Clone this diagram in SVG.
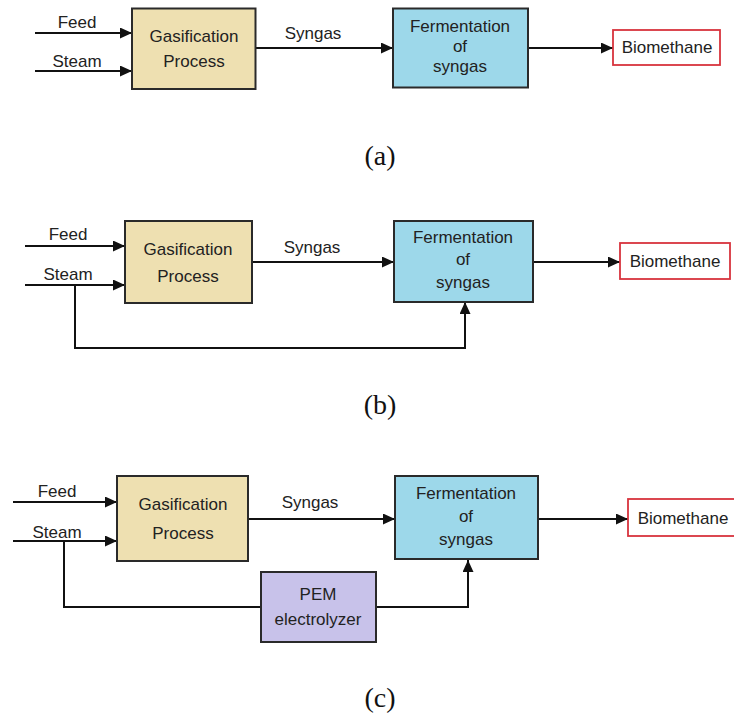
<svg xmlns="http://www.w3.org/2000/svg" width="734" height="722" viewBox="0 0 734 722">
<style>
.t{font-family:"Liberation Sans",Arial,sans-serif;font-size:17px;fill:#222;text-anchor:middle}
.cap{font-family:"Liberation Serif","Times New Roman",serif;font-size:28px;fill:#111;text-anchor:middle}
.gas{fill:#eee0b1;stroke:#2a2a2a;stroke-width:2}
.fer{fill:#9dd8ea;stroke:#2a2a2a;stroke-width:2}
.pem{fill:#c8c2ea;stroke:#2a2a2a;stroke-width:2}
.bio{fill:#fff;stroke:#d8333d;stroke-width:1.8}
.c{fill:none;stroke:#111;stroke-width:2}
.a{marker-end:url(#ah)}
</style>
<defs>
<marker id="ah" markerUnits="userSpaceOnUse" markerWidth="13" markerHeight="11" refX="12" refY="5.5" orient="auto">
<path d="M0,0 L12,5.5 L0,11 z" fill="#111"/>
</marker>
</defs>
<rect width="734" height="722" fill="#fff"/>

<g id="connectors">
<!-- (a) -->
<line class="c a" x1="35" y1="33" x2="132" y2="33"/>
<line class="c a" x1="35" y1="71" x2="132" y2="71"/>
<line class="c a" x1="256" y1="48" x2="393" y2="48"/>
<line class="c a" x1="528" y1="48" x2="613" y2="48"/>
<!-- (b) -->
<line class="c a" x1="25" y1="246" x2="125" y2="246"/>
<line class="c a" x1="25" y1="285" x2="125" y2="285"/>
<line class="c a" x1="252" y1="262" x2="394" y2="262"/>
<polyline class="c a" points="75,285 75,348 465,348 465,302"/>
<line class="c a" x1="533" y1="262" x2="620" y2="262"/>
<!-- (c) -->
<line class="c a" x1="13" y1="502" x2="117" y2="502"/>
<line class="c a" x1="13" y1="541" x2="117" y2="541"/>
<line class="c a" x1="248" y1="519" x2="395" y2="519"/>
<polyline class="c" points="64,541 64,607 261,607"/>
<polyline class="c a" points="376,607 468,607 468,560"/>
<line class="c a" x1="538" y1="519" x2="628" y2="519"/>
</g>

<g id="labels">
<text class="t" x="77" y="28">Feed</text>
<text class="t" x="77" y="67">Steam</text>
<text class="t" x="313" y="39">Syngas</text>
<text class="t" x="68" y="240">Feed</text>
<text class="t" x="68" y="280">Steam</text>
<text class="t" x="312" y="253">Syngas</text>
<text class="t" x="57" y="497">Feed</text>
<text class="t" x="57" y="538">Steam</text>
<text class="t" x="310" y="508">Syngas</text>
<text class="cap" x="380" y="165">(a)</text>
<text class="cap" x="380" y="414">(b)</text>
<text class="cap" x="380" y="707">(c)</text>
</g>

<g id="a-gasification">
<rect class="gas" x="132" y="8.5" width="123.5" height="80.5"/>
<text class="t" x="194" y="42">Gasification</text>
<text class="t" x="194" y="67">Process</text>
</g>
<g id="a-fermentation">
<rect class="fer" x="393" y="8.5" width="135" height="79"/>
<text class="t" x="460" y="32">Fermentation</text>
<text class="t" x="460" y="52">of</text>
<text class="t" x="460" y="72">syngas</text>
</g>
<g id="a-biomethane">
<rect class="bio" x="613" y="30" width="107" height="35"/>
<text class="t" x="667" y="53">Biomethane</text>
</g>

<g id="b-gasification">
<rect class="gas" x="125" y="221" width="127" height="82"/>
<text class="t" x="188" y="255">Gasification</text>
<text class="t" x="188" y="282">Process</text>
</g>
<g id="b-fermentation">
<rect class="fer" x="394" y="221" width="139" height="81"/>
<text class="t" x="463" y="243">Fermentation</text>
<text class="t" x="463" y="265">of</text>
<text class="t" x="463" y="288">syngas</text>
</g>
<g id="b-biomethane">
<rect class="bio" x="620" y="243" width="110" height="36"/>
<text class="t" x="675" y="267">Biomethane</text>
</g>

<g id="c-gasification">
<rect class="gas" x="117" y="476" width="131" height="85"/>
<text class="t" x="183" y="510">Gasification</text>
<text class="t" x="183" y="539">Process</text>
</g>
<g id="c-fermentation">
<rect class="fer" x="395" y="476" width="143" height="83"/>
<text class="t" x="466" y="499">Fermentation</text>
<text class="t" x="466" y="522">of</text>
<text class="t" x="466" y="545">syngas</text>
</g>
<g id="c-pem">
<rect class="pem" x="261" y="572" width="115" height="70"/>
<text class="t" x="318" y="600">PEM</text>
<text class="t" x="318" y="625">electrolyzer</text>
</g>
<g id="c-biomethane">
<rect class="bio" x="628" y="499" width="112" height="37"/>
<text class="t" x="683" y="524">Biomethane</text>
</g>
</svg>
